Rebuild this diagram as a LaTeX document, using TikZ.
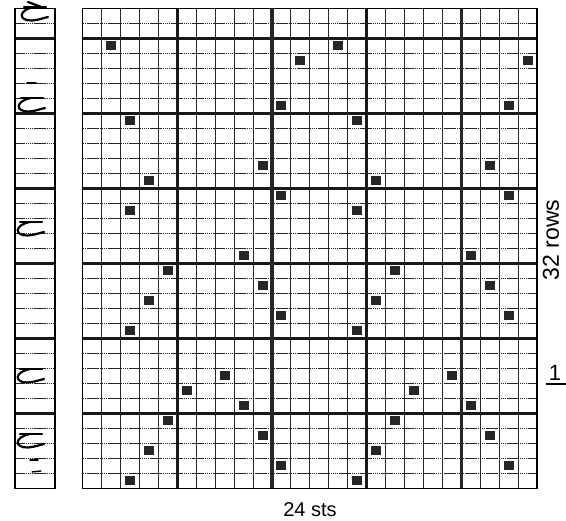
\documentclass[tikz,border=0pt]{standalone}
\usepackage{fontspec}
\setmainfont{Liberation Sans}
\begin{document}
\begin{tikzpicture}[x=1pt,y=-1pt,
  thinline/.style={line width=1pt, black!85},
  hline/.style={line width=0.9pt, black!85, dash pattern=on 1.6pt off 0.5pt},
  thickhline/.style={line width=2.6pt, black!90},
  thickvline/.style={line width=2.4pt, black!90},
  doublevline/.style={line width=3.6pt, black!85},
  cellmark/.style={fill=black!85},
  lbl/.style={font=\fontsize{20}{20}\selectfont, inner sep=0pt},
  hand/.style={line width=2.2pt, line cap=round, line join=round},
  pics/tsym/.style={code={
    \draw[hand] (-11,-6) -- (11,-6);
    \draw[hand] (-1,-6) .. controls (-17,-3) and (-17,8) .. (-3,7.5) .. controls (4,7) and (8,5) .. (13,4);
  }}]
\useasboundingbox (0,0) rectangle (566,521);
\fill[white] (0,0) rectangle (566,521);

% main chart grid: 24 sts x 32 rows
\begin{scope}[xshift=82.7pt, yshift=-8.3pt, x=18.93pt, y=-15pt]
  \foreach \r in {1,...,31} \draw[hline] (0,\r) -- (24,\r);
  \foreach \c in {1,...,23} \draw[thinline] (\c,0) -- (\c,32);
  \foreach \r in {2,7,...,27} \draw[thickhline] (0,\r) -- (24,\r);
  \foreach \c in {5,15} \draw[thickvline] (\c,0) -- (\c,32);
  \foreach \c in {10,20} \draw[doublevline] (\c,0) -- (\c,32);
  \draw[line width=1.3pt] (0,0) rectangle (24,32);
  \foreach \c/\r in {1/2,11/3,10/6,2/7,9/10,3/11,10/12,2/13,8/16,4/17,9/18,3/19,10/20,2/21,7/24,5/25,8/26,4/27,9/28,3/29,10/30,2/31} {
    \fill[cellmark] (\c+0.5,\r+0.5) +(-5pt,-4.5pt) rectangle +(5pt,4.5pt);
    \fill[cellmark] (\c+12.5,\r+0.5) +(-5pt,-4.5pt) rectangle +(5pt,4.5pt);
  }
\end{scope}

% left key strip
\begin{scope}[xshift=15pt, yshift=-8.3pt, x=40pt, y=-15pt]
  \foreach \r in {1,...,31} \draw[hline] (0,\r) -- (1,\r);
  \foreach \r in {2,7,...,27} \draw[thickhline] (0,\r) -- (1,\r);
  \draw[line width=1.3pt] (0,0) rectangle (1,32);
\end{scope}

% handwritten marks in the strip
\pic at (35,13) {tsym};
\draw[hand] (28,2) -- (44,8);
\pic at (32,104) {tsym};
\pic at (31,228) {tsym};
\pic at (31,375) {tsym};
\pic at (31,440) {tsym};
\draw[hand, line width=1.4pt] (27,83) -- (36,83);
\draw[hand, line width=1.4pt] (30,460) -- (38,460);
\draw[hand, line width=1.4pt] (32,472) -- (41,471);

% labels
\node[lbl] (sts) at (310,510) {24 sts};
\node[lbl, font=\fontsize{23}{23}\selectfont, rotate=90] (rows) at (551,240) {32 rows};
\node[lbl, font=\fontsize{22}{22}\selectfont] (one) at (555,373) {1};
\coordinate (tickL) at (546,384);
\coordinate (tickR) at (566,384);
\draw[line width=1.6pt] (tickL) -- (tickR);
\end{tikzpicture}
\end{document}
